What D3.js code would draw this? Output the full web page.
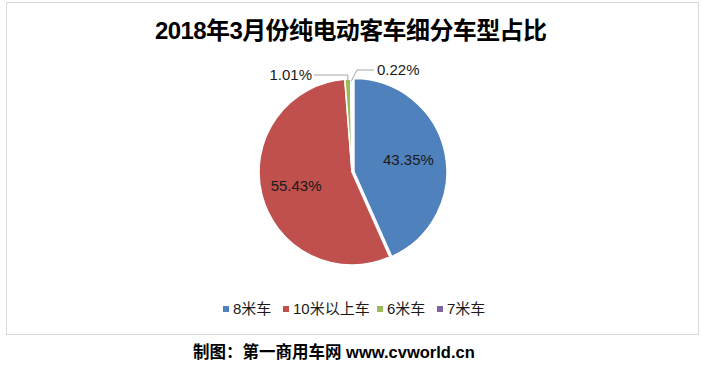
<!DOCTYPE html>
<html>
<head>
<meta charset="utf-8">
<script src="https://cdn.jsdelivr.net/npm/d3@7"></script>
<style>
  body { margin: 0; background: #fff; }
  text { font-family: Arial, "Liberation Sans", "Noto Sans CJK SC", sans-serif; }
</style>
</head>
<body>
<div id="chart"></div>
<script>
// chart data
var categories = ["8米车", "10米以上车", "6米车", "7米车"];
var shares = [43.35, 55.43, 1.01, 0.22];
var colors = ["#4f81bd", "#c0504d", "#9bbb59", "#8064a2"];
var titleText = "2018年3月份纯电动客车细分车型占比";
var footerText = "制图：第一商用车网 www.cvworld.cn";

var width = 702, height = 376;
var cx = 352, cy = 172, r = 93;

var svg = d3.select("#chart").append("svg")
  .attr("width", width)
  .attr("height", height);

// chart frame
svg.append("rect")
  .attr("x", 6.5).attr("y", 2.5)
  .attr("width", 692).attr("height", 332)
  .attr("fill", "#fff")
  .attr("stroke", "#d9d9d9");

svg.append("text")
  .attr("x", 351).attr("y", 39)
  .attr("text-anchor", "middle")
  .attr("font-size", 24)
  .attr("font-weight", "bold")
  .attr("fill", "#000")
  .attr("textLength", 392)
  .text(titleText);

var pie = d3.pie().sort(null).value(function(d) { return d; });
var arcs = pie(shares);
var arc = d3.arc().innerRadius(0).outerRadius(r);

var g = svg.append("g").attr("transform", "translate(" + cx + "," + cy + ")");

g.selectAll("path")
  .data(arcs)
  .enter().append("path")
    .attr("d", arc)
    .attr("fill", function(d, i) { return colors[i]; })
    .attr("stroke", "#fff")
    .attr("stroke-width", 1.5)
    .attr("transform", function(d, i) {
      // first slice pulled out a little
      if (i !== 0) return null;
      var a = (d.startAngle + d.endAngle) / 2;
      return "translate(" + (2 * Math.sin(a)) + "," + (-2 * Math.cos(a)) + ")";
    });

// inside labels for the two big slices
var inner = d3.arc().innerRadius(r * 0.62).outerRadius(r * 0.62);
g.selectAll("text.inside")
  .data(arcs.filter(function(d) { return d.value > 10; }))
  .enter().append("text")
    .attr("class", "inside")
    .attr("transform", function(d) { return "translate(" + inner.centroid(d) + ")"; })
    .attr("dy", "0.35em")
    .attr("text-anchor", "middle")
    .attr("font-size", 15)
    .attr("fill", "#1a1a1a")
    .text(function(d) { return d.value.toFixed(2) + "%"; });

// outside labels with leader lines for the thin slices
var small = arcs.filter(function(d) { return d.value < 10; });
small.forEach(function(d, k) {
  var a = (d.startAngle + d.endAngle) / 2;
  var p0 = [ (r - 2) * Math.sin(a), -(r - 2) * Math.cos(a) ];
  var pts, tx, anchor, ty;
  if (k === 0) {
    pts = [p0, [p0[0], -r - 4], [-38, -r - 4]];
    tx = -40; ty = -r - 4; anchor = "end";
  } else {
    pts = [p0, [5, -r - 9], [22, -r - 9]];
    tx = 25; ty = -r - 9; anchor = "start";
  }
  g.append("polyline")
    .attr("points", pts.map(function(p) { return p.join(","); }).join(" "))
    .attr("fill", "none")
    .attr("stroke", "#a6a6a6")
    .attr("stroke-width", 1);
  g.append("text")
    .attr("x", tx).attr("y", ty)
    .attr("dy", "0.35em")
    .attr("text-anchor", anchor)
    .attr("font-size", 15)
    .attr("fill", "#1a1a1a")
    .text(d.value.toFixed(2) + "%");
});

// legend
var legendX = [223, 283, 377, 437];
var legend = svg.append("g");
categories.forEach(function(c, i) {
  legend.append("rect")
    .attr("x", legendX[i]).attr("y", 306)
    .attr("width", 6).attr("height", 6)
    .attr("fill", colors[i]);
  legend.append("text")
    .attr("x", legendX[i] + 10).attr("y", 309)
    .attr("dy", "0.35em")
    .attr("font-size", 15)
    .attr("fill", "#1a1a1a")
    .text(c);
});

svg.append("text")
  .attr("x", 193).attr("y", 358)
  .attr("font-size", 16.5)
  .attr("font-weight", "bold")
  .attr("fill", "#000")
  .text(footerText);
</script>
</body>
</html>
